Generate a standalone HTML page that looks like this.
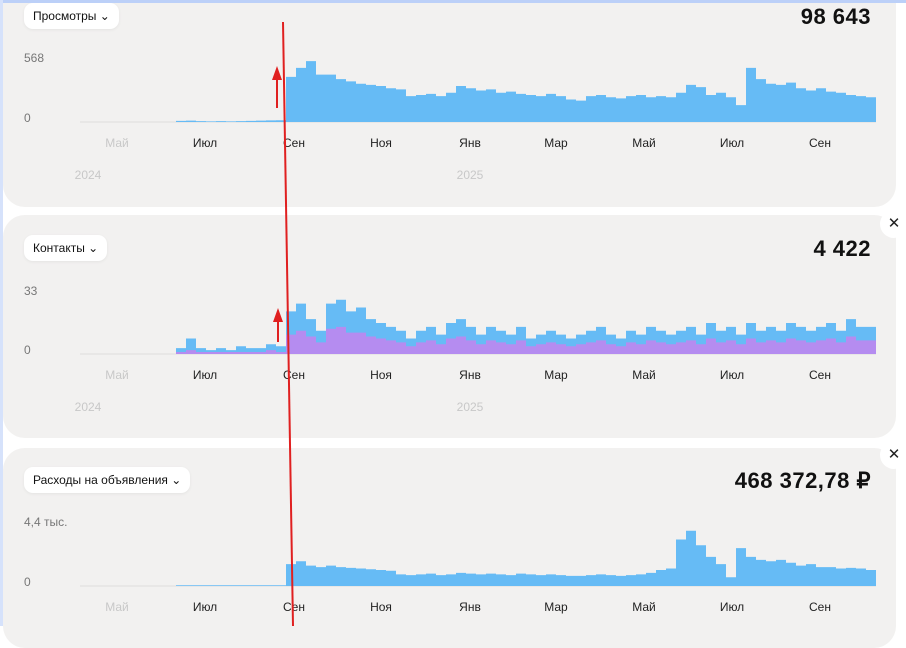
<!DOCTYPE html>
<html><head><meta charset="utf-8">
<style>
body{margin:0;width:906px;height:626px;overflow:hidden;background:#fff;font-family:"Liberation Sans",sans-serif;position:relative}
.frame{position:absolute;left:0;top:0;width:906px;height:3px;background:#bcd0f8;z-index:5}
.frameL{position:absolute;left:0;top:0;width:3px;height:626px;background:#d6e2fb;z-index:5}
.card{position:absolute;left:3px;width:893px;background:#f2f1f0;border-radius:22px}
.pill{position:absolute;left:24px;background:#fff;border-radius:9px;font-size:12px;color:#111;padding:0 9px;height:26px;line-height:26px;box-shadow:0 1px 3px rgba(0,0,0,.06)}
.big{position:absolute;right:35px;font-weight:bold;font-size:22px;color:#111;letter-spacing:.5px}
.close{position:absolute;left:880px;width:28px;height:28px;border-radius:14px;background:#fff;font-size:15px;text-align:center;line-height:28px;color:#222}
svg{position:absolute;left:0;top:0}
</style></head><body>
<div class="frame"></div>
<div class="frameL"></div>
<div class="card" style="top:-20px;height:227px"></div>
<div class="card" style="top:215px;height:223px"></div>
<div class="card" style="top:448px;height:200px"></div>
<div class="pill" style="top:3px">Просмотры ⌄</div>
<div class="pill" style="top:235px">Контакты ⌄</div>
<div class="pill" style="top:467px">Расходы на объявления ⌄</div>
<div class="big" style="top:4px">98 643</div>
<div class="big" style="top:236px">4 422</div>
<div class="big" style="top:468px">468 372,78 ₽</div>
<div class="close" style="top:210px">✕</div>
<div class="close" style="top:441px">✕</div>
<svg id="c" width="906" height="626"></svg>
<script>
const months=["Май","Июл","Сен","Ноя","Янв","Мар","Май","Июл","Сен"];
const monthX=[117,205,294,381,470,556,644,732,820];
const years=["2024","2025"];
const yearX=[88,470];
const views=[10,12,8,6,8,6,8,10,12,14,16,400,480,540,420,420,380,360,340,330,320,300,290,230,240,250,230,260,320,300,280,290,260,270,250,240,230,250,230,200,190,230,240,220,210,230,240,220,230,220,260,330,310,240,260,220,150,480,380,340,330,350,300,280,300,270,260,240,230,220];
const contactsBlue=[3,8,3,2,3,2,4,3,3,5,4,22,26,18,12,26,28,22,24,18,16,14,12,8,12,14,10,16,18,14,10,14,12,10,14,8,10,12,10,8,10,12,14,10,8,12,10,14,12,10,12,14,10,16,12,14,10,16,12,14,12,16,14,12,14,16,12,18,14,14];
const contactsPurple=[1,2,1,1,1,1,1,1,1,2,1,10,12,9,6,13,14,11,11,9,8,7,6,4,6,7,5,8,9,7,5,7,6,5,7,4,5,6,5,4,5,6,7,5,4,6,5,7,6,5,6,7,5,8,6,7,5,8,6,7,6,8,7,6,7,8,6,9,7,7];
const spend=[50,50,50,50,50,50,50,50,50,50,50,1500,1700,1400,1300,1400,1300,1250,1200,1150,1100,1050,800,750,800,850,750,800,900,850,800,850,800,750,850,800,750,800,750,700,700,750,800,750,700,750,800,900,1100,1200,3200,3800,2800,2000,1500,600,2600,2000,1800,1700,1800,1600,1400,1500,1300,1300,1200,1250,1200,1100];
const x0=176,step=10,xEnd=876;
const S=document.getElementById('c');const NS='http://www.w3.org/2000/svg';
function el(t,a,txt){const e=document.createElementNS(NS,t);for(const k in a)e.setAttribute(k,a[k]);if(txt!=null)e.textContent=txt;S.appendChild(e);return e;}
function xs(i){return x0+i*step;}
function area(vals,base,max,h,color,name){
  const ys=v=>base-v/max*h;
  let d='M'+x0+','+base;
  vals.forEach((v,i)=>{d+=' L'+xs(i)+','+ys(v)+' L'+Math.min(xs(i)+step,xEnd)+','+ys(v);});
  d+=' L'+xEnd+','+base+' Z';
  const p=el('path',{d:d,fill:color});
  
  
}
function panel(base,maxLabel,yTop,showYears){
  el('line',{x1:80,x2:876,y1:base,y2:base,stroke:'#ddd','stroke-width':1});
  const t1=el('text',{x:24,y:yTop+4,'font-size':12,fill:'#777'},maxLabel);
  
  const t0=el('text',{x:24,y:base,'font-size':12,fill:'#777'},'0');
  
  months.forEach((m,i)=>{const t=el('text',{x:monthX[i],y:base+25,'font-size':12,fill:i==0?'#c8c8c8':'#222','text-anchor':'middle'},m);
    });
  if(showYears)years.forEach((y,i)=>{const t=el('text',{x:yearX[i],y:base+61-4,'font-size':12,fill:'#c8c8c8','text-anchor':'middle'},y);
    });
}
panel(122,'568',58,true);
area(views,122,568,64,'#66bbf5','views-area');
panel(354,'33',291,true);
area(contactsBlue,354,33,64,'#66bbf5','contacts-area');
area(contactsPurple,354,33,64,'#b58cf0','contacts-purple-area');
panel(586,'4,4 тыс.',522,false);
area(spend,586,4400,64,'#66bbf5','spend-area');
const rl=el('line',{x1:283,y1:22,x2:293,y2:626,stroke:'#e02020','stroke-width':2});

[[277,108,66],[278,342,308]].forEach(a=>{
  const l=el('line',{x1:a[0],y1:a[1],x2:a[0],y2:a[2]+10,stroke:'#e02020','stroke-width':2});
  
  const p=el('path',{d:`M${a[0]-5},${a[2]+14} L${a[0]},${a[2]} L${a[0]+5},${a[2]+14} Z`,fill:'#e02020'});
  
});
</script>
</body></html>
